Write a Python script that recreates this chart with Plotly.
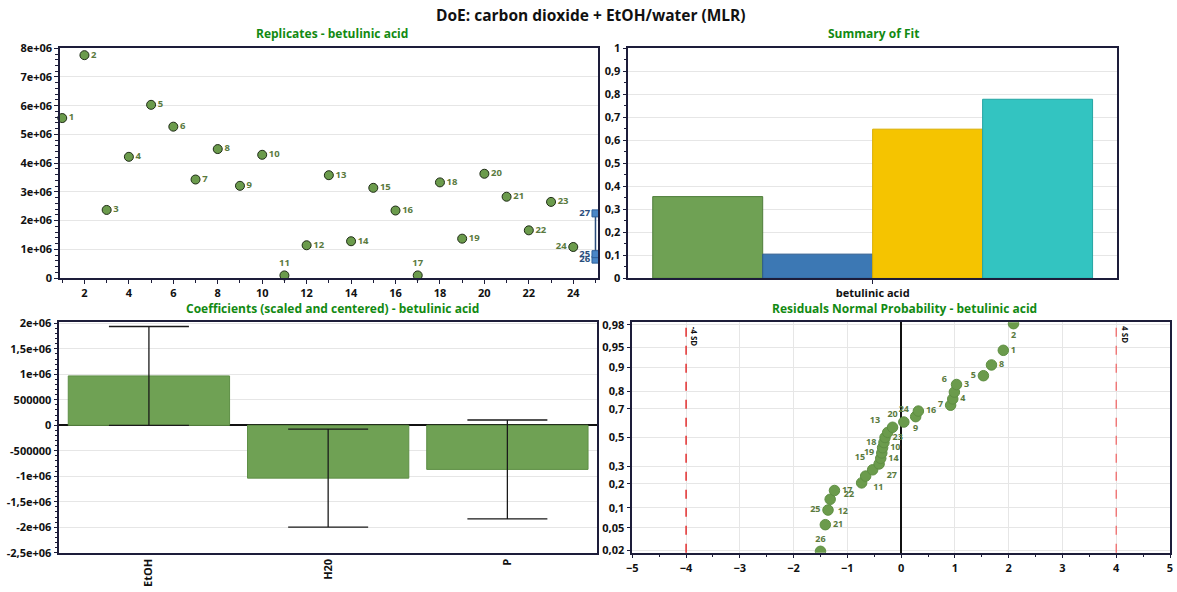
import plotly.graph_objects as go
from statistics import NormalDist

# ---------------- data ----------------
# Replicate plot: run number, replicate index on the x axis, response value
run_ids = [str(i) for i in range(1, 28)]
replicate_index = [1, 2, 3, 4, 5, 6, 7, 8, 9, 10, 11, 12, 13, 14, 15, 16, 17, 18,
                   19, 20, 21, 22, 23, 24, 25, 25, 25]
response = [5.57e6, 7.76e6, 2.37e6, 4.22e6, 6.03e6, 5.27e6, 3.43e6, 4.49e6, 3.21e6,
            4.29e6, 0.09e6, 1.14e6, 3.58e6, 1.28e6, 3.14e6, 2.35e6, 0.09e6, 3.33e6,
            1.37e6, 3.63e6, 2.83e6, 1.66e6, 2.65e6, 1.08e6, 0.83e6, 0.64e6, 2.25e6]
replicate_ticks = [2, 4, 6, 8, 10, 12, 14, 16, 18, 20, 22, 24]
response_ticks = [0, 1e6, 2e6, 3e6, 4e6, 5e6, 6e6, 7e6, 8e6]
response_ticktext = ["0", "1e+06", "2e+06", "3e+06", "4e+06", "5e+06", "6e+06", "7e+06", "8e+06"]

# Summary of fit
response_name = "betulinic acid"
fit_stats = ["R2", "Q2", "Model validity", "Reproducibility"]
fit_values = [0.355, 0.105, 0.648, 0.778]
fit_ticks = [0, 0.1, 0.2, 0.3, 0.4, 0.5, 0.6, 0.7, 0.8, 0.9, 1]
fit_ticktext = ["0", "0,1", "0,2", "0,3", "0,4", "0,5", "0,6", "0,7", "0,8", "0,9", "1"]

# Coefficients (scaled and centered) with confidence intervals
terms = ["EtOH", "H20", "P"]
coefficients = [0.968e6, -1.037e6, -0.866e6]
conf_int = [0.97e6, 0.962e6, 0.969e6]
coef_ticks = [-2.5e6, -2e6, -1.5e6, -1e6, -5e5, 0, 5e5, 1e6, 1.5e6, 2e6]
coef_ticktext = ["-2,5e+06", "-2e+06", "-1,5e+06", "-1e+06", "-500000", "0",
                 "500000", "1e+06", "1,5e+06", "2e+06"]

# Residuals normal probability: run, deleted studentized residual, cumulative probability
resid_runs = ["26", "21", "25", "12", "17", "22", "11", "15", "27", "14", "19", "10",
              "18", "23", "13", "20", "24", "9", "16", "7", "4", "6", "3", "5", "8", "1", "2"]
resid_values = [-1.50, -1.41, -1.36, -1.32, -1.24, -0.735, -0.66, -0.53, -0.41, -0.38,
                -0.36, -0.345, -0.32, -0.30, -0.25, -0.16, 0.05, 0.27, 0.32, 0.92,
                0.96, 0.99, 1.03, 1.53, 1.68, 1.90, 2.09]
resid_prob = [0.019, 0.056, 0.093, 0.130, 0.167, 0.204, 0.241, 0.278, 0.315, 0.352,
              0.389, 0.426, 0.463, 0.500, 0.537, 0.574, 0.611, 0.648, 0.685, 0.722,
              0.759, 0.796, 0.833, 0.870, 0.907, 0.944, 0.981]
prob_ticks = [0.02, 0.05, 0.1, 0.2, 0.3, 0.5, 0.7, 0.8, 0.9, 0.95, 0.98]
prob_ticktext = ["0,02", "0,05", "0,1", "0,2", "0,3", "0,5", "0,7", "0,8", "0,9", "0,95", "0,98"]
resid_xticks = [-5, -4, -3, -2, -1, 0, 1, 2, 3, 4, 5]
sd_limits = [-4, 4]

# ---------------- styling ----------------
W, H = 1177, 592
FONT = "Open Sans"
AXIS_COL = "#1d1d3a"
GRID_COL = "#e6e6e6"
TITLE_GREEN = "#128a12"
POINT_GREEN = "#6b9b4c"
LABEL_GREEN = "#5a7a3e"
REP_BLUE = "#4a86c6"
REP_DARK = "#2a4d7c"

norm = NormalDist()


def px_x(p):
    return p / W


def px_y(p):
    return 1 - p / H


tickfont = dict(family=FONT, size=11, color="#111111", weight="bold")


def axis_common(**kw):
    d = dict(showline=True, linecolor=AXIS_COL, linewidth=1.5, mirror=True,
             ticks="outside", ticklen=4, tickcolor=AXIS_COL, tickwidth=1,
             tickfont=tickfont, zeroline=False, showgrid=False)
    d.update(kw)
    return d


fig = go.Figure()

# ---- replicate plot ----
design_n = 24
label_pos = {"11": "top center", "17": "top center", "24": "middle left"}
fig.add_trace(go.Scatter(
    x=replicate_index[:design_n], y=response[:design_n],
    mode="markers+text", text=run_ids[:design_n],
    textposition=[label_pos.get(r, "middle right") for r in run_ids[:design_n]],
    textfont=dict(family=FONT, size=9.5, color=LABEL_GREEN, weight="bold"),
    marker=dict(size=9, color=POINT_GREEN, line=dict(color="#1f2c17", width=1)),
    cliponaxis=False, xaxis="x", yaxis="y", showlegend=False, hoverinfo="x+y"))

center = sorted(zip(response[design_n:], replicate_index[design_n:], run_ids[design_n:]))
fig.add_trace(go.Scatter(
    x=[c[1] for c in center], y=[c[0] for c in center],
    mode="lines+markers+text", text=[c[2] for c in center],
    textposition="middle left",
    textfont=dict(family=FONT, size=9.5, color=REP_DARK, weight="bold"),
    line=dict(color=REP_DARK, width=1.5),
    marker=dict(symbol="square", size=7, color=REP_BLUE, line=dict(color="#2f5f98", width=1)),
    cliponaxis=False, xaxis="x", yaxis="y", showlegend=False))

# ---- summary of fit ----
fit_colors = ["#6fa154", "#3c78b4", "#f5c400", "#33c4c1"]
fit_edges = ["#4f7d3a", "#2c5a8c", "#d9ad00", "#25a5a3"]
for name, val, col, edge in zip(fit_stats, fit_values, fit_colors, fit_edges):
    fig.add_trace(go.Bar(
        x=[response_name], y=[val], name=name, marker=dict(color=col, line=dict(color=edge, width=1)),
        xaxis="x2", yaxis="y2", showlegend=False))

# ---- coefficients ----
fig.add_trace(go.Bar(
    x=terms, y=coefficients,
    marker=dict(color="#6fa154", line=dict(color="#5e8f46", width=1)),
    error_y=dict(type="data", array=conf_int, color="#1a1a1a", thickness=1.3, width=40),
    xaxis="x3", yaxis="y3", showlegend=False))

# ---- residual normal probability ----
resid_labelpos = {
    "26": "top center", "21": "middle right", "25": "middle left", "12": "bottom right",
    "17": "middle right", "22": "bottom left", "11": "bottom right", "15": "top left",
    "27": "bottom right", "14": "middle right", "19": "middle left", "10": "middle right",
    "18": "middle left", "23": "middle right", "13": "top left", "20": "top center",
    "24": "top center", "9": "bottom center", "16": "middle right", "7": "middle left",
    "4": "middle right", "6": "top left", "3": "middle right", "5": "middle left",
    "8": "middle right", "1": "middle right", "2": "bottom center"}
fig.add_trace(go.Scatter(
    x=resid_values, y=[norm.inv_cdf(p) for p in resid_prob],
    mode="markers+text", text=resid_runs,
    textposition=[resid_labelpos[r] for r in resid_runs],
    textfont=dict(family=FONT, size=9, color=LABEL_GREEN, weight="bold"),
    marker=dict(size=10.5, color=POINT_GREEN, line=dict(color="#5f8f43", width=1)),
    xaxis="x4", yaxis="y4", showlegend=False))

# ---------------- layout ----------------
top_y = [px_y(278), px_y(47.7)]
bot_y = [px_y(552.7), px_y(322.3)]

layout = dict(
    width=W, height=H, autosize=False,
    margin=dict(l=0, r=0, t=0, b=0, autoexpand=False),
    paper_bgcolor="white", plot_bgcolor="white",
    font=dict(family=FONT, color="#111111"),
    barmode="group", bargap=0.1, bargroupgap=0,
    showlegend=False,
    xaxis=axis_common(domain=[px_x(60), px_x(597.7)], range=[0.9, 25.1],
                      tickvals=replicate_ticks, anchor="y",
                      minor=dict(dtick=1, ticklen=3, tickcolor=AXIS_COL, ticks="outside")),
    yaxis=axis_common(domain=top_y, range=[0, 8.02e6], tickvals=response_ticks,
                      ticktext=response_ticktext, anchor="x", showgrid=True, gridcolor=GRID_COL,
                      minor=dict(dtick=2e5, ticklen=3, tickcolor=AXIS_COL, ticks="outside")),
    xaxis2=axis_common(domain=[px_x(628.3), px_x(1117)], anchor="y2", type="category",
                       range=[-0.5, 0.5]),
    yaxis2=axis_common(domain=[px_y(278.3), px_y(47.7)], range=[0, 1.002], tickvals=fit_ticks,
                       ticktext=fit_ticktext, anchor="x2", showgrid=True, gridcolor=GRID_COL,
                       minor=dict(dtick=0.05, ticklen=3, tickcolor=AXIS_COL, ticks="outside")),
    xaxis3=axis_common(domain=[px_x(59.3), px_x(597)], anchor="y3", type="category",
                       tickangle=-90, range=[-0.5, 2.5], ticks=""),
    yaxis3=axis_common(domain=bot_y, range=[-2.5e6, 2.02e6], tickvals=coef_ticks,
                       ticktext=coef_ticktext, anchor="x3", showgrid=True, gridcolor=GRID_COL,
                       zeroline=True, zerolinecolor="#111111", zerolinewidth=1.5,
                       minor=dict(dtick=1e5, ticklen=3, tickcolor=AXIS_COL, ticks="outside")),
    xaxis4=axis_common(domain=[px_x(632.3), px_x(1170)], range=[-5, 5], tickvals=resid_xticks,
                       anchor="y4", showgrid=True, gridcolor=GRID_COL, zeroline=True,
                       zerolinecolor="#111111", zerolinewidth=1.5,
                       minor=dict(dtick=0.5, ticklen=3, tickcolor=AXIS_COL, ticks="outside")),
    yaxis4=axis_common(domain=bot_y, range=[-2.1, 2.1],
                       tickvals=[norm.inv_cdf(p) for p in prob_ticks], ticktext=prob_ticktext,
                       anchor="x4", showgrid=True, gridcolor=GRID_COL),
)
fig.update_layout(**layout)

# ±4 SD limit lines
sd_colors = ["#e01010", "#f06a6a"]
for lim, col in zip(sd_limits, sd_colors):
    fig.add_shape(type="line", xref="x4", yref="y4 domain", x0=lim, x1=lim, y0=0, y1=1,
                  line=dict(color=col, width=1.3, dash="dash"))
    fig.add_annotation(xref="x4", yref="y4 domain", x=lim, y=1, xanchor="left", yanchor="top",
                       xshift=1, yshift=-2, text=f"{lim} SD", textangle=90, showarrow=False,
                       font=dict(family=FONT, size=8, color="#111111", weight="bold"))

# titles
fig.add_annotation(xref="paper", yref="paper", x=px_x(591), y=px_y(15),
                   xanchor="center", yanchor="middle",
                   text="DoE: carbon dioxide + EtOH/water (MLR)",
                   showarrow=False, font=dict(family=FONT, size=15.5, color="#111111", weight="bold"))
panel_titles = [
    ("Replicates - betulinic acid", 332, 33.3),
    ("Summary of Fit", 873, 33.3),
    ("Coefficients (scaled and centered) - betulinic acid", 332, 308),
    ("Residuals Normal Probability - betulinic acid", 904.5, 308.3),
]
for txt, xp, yp in panel_titles:
    fig.add_annotation(xref="paper", yref="paper", x=px_x(xp), y=px_y(yp), text=txt,
                       xanchor="center", yanchor="middle", showarrow=False,
                       font=dict(family=FONT, size=12, color=TITLE_GREEN, weight="bold"))

fig.write_html("out.html")
